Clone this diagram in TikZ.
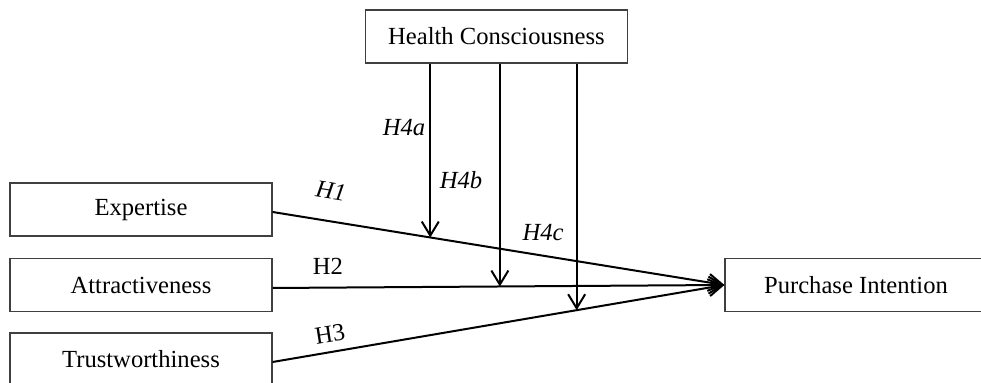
\documentclass[tikz,border=0pt]{standalone}
\usepackage{fontspec}
\setmainfont{Liberation Serif}
\usetikzlibrary{arrows.meta,calc}
\begin{document}
\begin{tikzpicture}[x=0.5pt,y=-0.5pt,
  box/.style={draw=black!75,line width=0.6pt,minimum width=131pt,minimum height=26.5pt,inner sep=0pt,font=\fontsize{12.3}{14}\selectfont},
  conn/.style={line width=1pt,-{Straight Barb[length=7pt,width=8.5pt,line width=1pt]}},
  lbl/.style={font=\fontsize{12.3}{14}\selectfont,inner sep=0pt}]
\useasboundingbox (0,0) rectangle (981,383);
\clip (0,0) rectangle (981,383);
\node[box] (HC) at (496.5,36.5) {Health Consciousness};
\node[box] (E) at (141,209.5) {Expertise};
\node[box] (A) at (141,285) {Attractiveness};
\node[box] (T) at (141,359.5) {Trustworthiness};
\node[box] (PI) at (856,285) {Purchase Intention};
\coordinate (e0) at ($(E.east)+(0,2.5)$);
\coordinate (a0) at ($(A.east)+(0,3)$);
\coordinate (t0) at ($(T.east)+(0,2.5)$);
\draw[conn] (e0) -- (PI.west);
\draw[conn] (a0) -- (PI.west);
\draw[conn] (t0) -- (PI.west);
\coordinate (m1) at ($(e0)!0.349!(PI.west)$);
\coordinate (m2) at ($(a0)!0.503!(PI.west)$);
\coordinate (m3) at ($(t0)!0.673!(PI.west)$);
\draw[conn] (m1 |- HC.south) -- (m1);
\draw[conn] (m2 |- HC.south) -- (m2);
\draw[conn] (m3 |- HC.south) -- (m3);
\node[lbl,rotate=-9] (l1) at (331,191) {\itshape H1};
\node[lbl] (l2) at (328,266) {H2};
\node[lbl,rotate=9] (l3) at (330,334) {H3};
\node[lbl] (l4a) at (404,128) {\itshape H4a};
\node[lbl] (l4b) at (461,180) {\itshape H4b};
\node[lbl] (l4c) at (543,233) {\itshape H4c};
\end{tikzpicture}
\end{document}
